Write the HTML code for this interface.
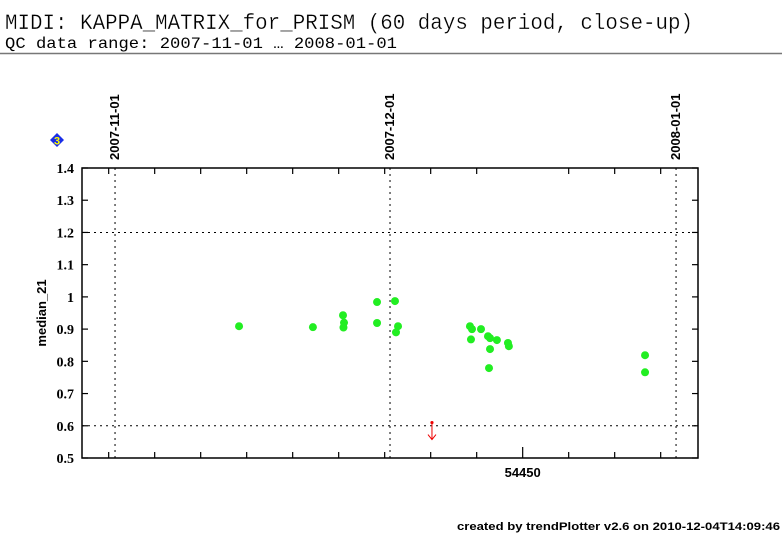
<!DOCTYPE html>
<html><head><meta charset="utf-8"><style>
body{margin:0;background:#fff;}
svg{display:block;}
text{font-family:"Liberation Sans",sans-serif;}
</style></head><body>
<svg id="chart" width="782" height="542" xmlns="http://www.w3.org/2000/svg">
<text x="5" y="29" font-size="22" textLength="688" lengthAdjust="spacingAndGlyphs" style="font-family:'Liberation Mono',monospace" stroke="#fff" stroke-width="0.3">MIDI: KAPPA_MATRIX_for_PRISM (60 days period, close-up)</text>
<text x="5" y="48" font-size="16" textLength="392" lengthAdjust="spacingAndGlyphs" style="font-family:'Liberation Mono',monospace">QC data range: 2007-11-01 … 2008-01-01</text>
<line x1="0" y1="53.5" x2="782" y2="53.5" stroke="#777" stroke-width="1.5"/>
<g><polygon points="57,133 64,140 57,147 50,140" fill="#1a2ee8"/><text x="57" y="144.5" font-size="11" font-weight="bold" fill="#ff0" text-anchor="middle">3</text></g>
<text transform="translate(46,313) rotate(-90)" font-size="13" font-weight="bold" text-anchor="middle">median_21</text>
<text x="457" y="530" font-size="11" font-weight="bold" textLength="323" lengthAdjust="spacingAndGlyphs">created by trendPlotter v2.6 on 2010-12-04T14:09:46</text>
<g id="plot"></g>
</svg>
<script>
const pointsMjd = [54419.17,54427.2,54430.47,54430.58,54430.52,54434.17,54434.17,54436.12,54436.45,54436.23,54444.27,54444.38,54444.49,54445.47,54446.23,54446.45,54446.45,54447.2,54448.4,54448.5,54446.34,54463.3,54463.3];
const pointsVal = [0.909,0.906,0.943,0.92,0.905,0.984,0.919,0.987,0.909,0.89,0.909,0.868,0.9,0.9,0.878,0.872,0.838,0.866,0.857,0.847,0.779,0.819,0.766];
const limitMjd = [54440.14];
const limitVal = [0.61];
const yTicks = [0.5,0.6,0.7,0.8,0.9,1,1.1,1.2,1.3,1.4];
const yTickLabels = ["0.5","0.6","0.7","0.8","0.9","1","1.1","1.2","1.3","1.4"];
const yRefLines = [0.6,1.2];
const dateLineMjd = [54405.69,54435.58,54466.67];
const dateLabels = ["2007-11-01","2007-12-01","2008-01-01"];
const xMinorTicks = [54405,54410,54415,54420,54425,54430,54435,54440,54445,54455,54460,54465];
const xMajorTicks = [54450];
const xMajorLabels = ["54450"];

const L=82,R=698,T=168,B=458, x0=54402.1, x1=54402.1+(R-L)/9.2, yMin=0.5,yMax=1.4;
const X=v=>L+(v-x0)/(x1-x0)*(R-L);
const Y=v=>B-(v-yMin)/(yMax-yMin)*(B-T);
const NS="http://www.w3.org/2000/svg";
const g=document.getElementById('plot');
function mk(tag,attrs,parent){const e=document.createElementNS(NS,tag);for(const k in attrs)e.setAttribute(k,attrs[k]);(parent||g).appendChild(e);return e;}

yRefLines.forEach(v=>{const e=mk('line',{x1:L,x2:R,y1:Y(v),y2:Y(v),stroke:'#000','stroke-width':1,'stroke-dasharray':'2,4'});

});
dateLineMjd.forEach((v,i)=>{const e=mk('line',{x1:X(v),x2:X(v),y1:T,y2:B,stroke:'#000','stroke-width':1,'stroke-dasharray':'2,4'});


const t=mk('text',{transform:`translate(${X(v)+4},${T-8}) rotate(-90)`,'font-size':13,'font-weight':'bold'});
t.textContent=dateLabels[i];

});
const frame=mk('rect',{x:L,y:T,width:R-L,height:B-T,fill:'none',stroke:'#000','stroke-width':1.5});


yTicks.forEach((v,i)=>{mk('line',{x1:L,x2:L+6,y1:Y(v),y2:Y(v),stroke:'#000','stroke-width':1.2});mk('line',{x1:R-6,x2:R,y1:Y(v),y2:Y(v),stroke:'#000','stroke-width':1.2});
const t=mk('text',{x:L-8,y:Y(v)+5,'font-size':14,'text-anchor':'end',style:"font-family:'Liberation Serif',serif;font-weight:bold"});
t.textContent=yTickLabels[i];

});
xMinorTicks.forEach(v=>{mk('line',{x1:X(v),x2:X(v),y1:B,y2:B-6,stroke:'#000','stroke-width':1.2});mk('line',{x1:X(v),x2:X(v),y1:T,y2:T+6,stroke:'#000','stroke-width':1.2});});
xMajorTicks.forEach((v,i)=>{mk('line',{x1:X(v),x2:X(v),y1:B,y2:B-11,stroke:'#000','stroke-width':1.2});
const t=mk('text',{x:X(v),y:B+19,'font-size':13,'font-weight':'bold','text-anchor':'middle'});
t.textContent=xMajorLabels[i];

});
pointsMjd.forEach((m,i)=>{const c=mk('circle',{cx:X(m),cy:Y(pointsVal[i]),r:4,fill:'#22ee22'});

});
limitMjd.forEach((m,i)=>{const x=X(m),y=Y(limitVal[i]);
const a=mk('g',{});


mk('circle',{cx:x,cy:y,r:1.6,fill:'#e00'},a);
mk('path',{d:`M${x},${y} V${y+17} M${x-4},${y+12} L${x},${y+17} L${x+4},${y+12}`,stroke:'#e00','stroke-width':1,fill:'none'},a);});
</script>
</body></html>
